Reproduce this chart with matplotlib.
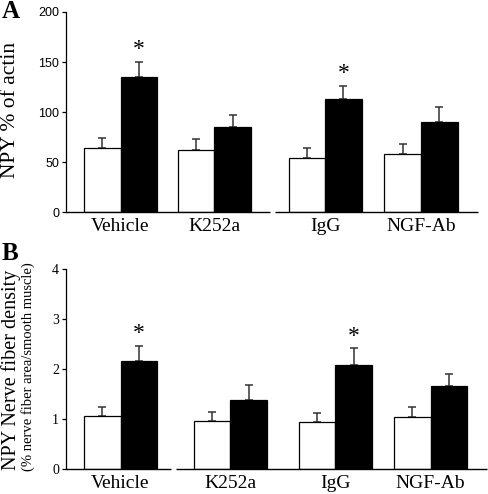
import matplotlib
matplotlib.use("Agg")
import matplotlib.pyplot as plt
import numpy as np

# ---- data ----
groups = ["Vehicle", "K252a", "IgG", "NGF-Ab"]

a_white = [64, 62, 54, 58]
a_white_err = [10, 11, 10, 10]
a_black = [134.5, 85, 112.5, 90]
a_black_err = [15.5, 12, 13.5, 15]
a_sig = [True, False, True, False]
a_yticks = [0, 50, 100, 150, 200]

b_white = [1.05, 0.95, 0.93, 1.03]
b_white_err = [0.18, 0.19, 0.19, 0.21]
b_black = [2.15, 1.38, 2.07, 1.65]
b_black_err = [0.31, 0.30, 0.34, 0.24]
b_sig = [True, False, True, False]
b_yticks = [0, 1, 2, 3, 4]

# ---- layout (pixel-like x coordinates) ----
W, H = 488, 494
a_centers = [120.5, 214.3, 325.2, 421.0]
b_centers = [120.5, 230.3, 335.2, 430.5]
bw = 36.6

fig = plt.figure(figsize=(W / 100, H / 100), dpi=100)
serif = ["Liberation Serif", "DejaVu Serif"]
sans = ["Liberation Sans", "DejaVu Sans"]


def panel(rect, centers, white, werr, black, berr, sig, yticks, ymax, xright,
          gaps, tickfam, tickfs):
    ax = fig.add_axes(rect)
    c = np.array(centers)
    ax.bar(c - bw / 2, white, width=bw, color="white", edgecolor="black",
           linewidth=0.9, zorder=2)
    ax.bar(c + bw / 2, black, width=bw, color="black", edgecolor="black",
           linewidth=0.9, zorder=2)
    ax.errorbar(c - bw / 2, white, yerr=[np.zeros(len(white)), werr], fmt="none",
                ecolor="#333333", elinewidth=1.1, capsize=3.2, capthick=1.1, zorder=1)
    ax.errorbar(c + bw / 2, black, yerr=[np.zeros(len(black)), berr], fmt="none",
                ecolor="#333333", elinewidth=1.1, capsize=3.2, capthick=1.1, zorder=1)
    for i, s in enumerate(sig):
        if s:
            ax.text(c[i] + bw / 2, black[i] + berr[i] + ymax * 0.008, "*",
                    ha="center", va="bottom", fontsize=17, family=serif)
    ax.set_xlim(66, xright)
    ax.set_ylim(0, ymax)
    ax.set_yticks(yticks)
    ax.set_yticklabels([str(t) for t in yticks], family=tickfam, fontsize=tickfs)
    ax.set_xticks(c)
    ax.set_xticklabels(groups, family=serif, fontsize=14)
    ax.tick_params(axis="x", length=0, pad=4.5)
    ax.tick_params(axis="y", length=3, width=0.9, pad=2, direction="out")
    for sp in ["top", "right", "bottom"]:
        ax.spines[sp].set_visible(False)
    ax.spines["left"].set_linewidth(0.9)
    # baseline with small gaps (as in the original composite)
    xs = [66] + [g for pair in gaps for g in pair] + [xright]
    for k in range(0, len(xs), 2):
        ax.plot([xs[k], xs[k + 1]], [0, 0], color="black", lw=1.0,
                clip_on=False, zorder=3, solid_capstyle="butt")
    return ax


axA = panel([66 / W, 1 - 212 / H, (478 - 66) / W, 200 / H], a_centers,
            a_white, a_white_err, a_black, a_black_err, a_sig, a_yticks, 200, 478,
            [(270, 275)], sans, 9)
axB = panel([66 / W, 1 - 468.7 / H, (487 - 66) / W, 200 / H], b_centers,
            b_white, b_white_err, b_black, b_black_err, b_sig, b_yticks, 4, 487,
            [(171, 176)], serif, 10)

fig.text(2 / W, 1 - 12 / H, "A", family=serif, fontsize=18, fontweight="bold",
         ha="left", va="center")
fig.text(2 / W, 1 - 253 / H, "B", family=serif, fontsize=18, fontweight="bold",
         ha="left", va="center")
fig.text(11 / W, 1 - 110 / H, "NPY % of actin", family=serif, fontsize=15.5,
         rotation=90, ha="center", va="center")
fig.text(11 / W, 1 - 370 / H, "NPY Nerve fiber density", family=serif, fontsize=14.5,
         rotation=90, ha="center", va="center")
fig.text(28 / W, 1 - 367 / H, "(% nerve fiber area/smooth muscle)", family=serif,
         fontsize=10.5, rotation=90, ha="center", va="center")

fig.savefig("out.png", dpi=100)
